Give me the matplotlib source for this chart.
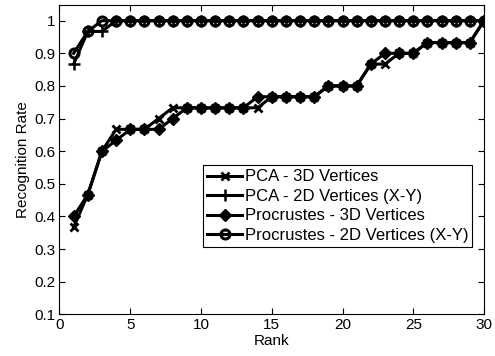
import matplotlib
matplotlib.use('Agg')
import matplotlib.pyplot as plt

plt.rcParams['font.family'] = ['Liberation Sans', 'DejaVu Sans']

rank = list(range(1, 31))
pca_3d = [0.367, 0.467, 0.600, 0.667, 0.667, 0.667, 0.700, 0.733, 0.733, 0.733,
          0.733, 0.733, 0.733, 0.733, 0.767, 0.767, 0.767, 0.767, 0.800, 0.800,
          0.800, 0.867, 0.867, 0.900, 0.900, 0.933, 0.933, 0.933, 0.933, 1.000]
pca_2d = [0.867, 0.967, 0.967] + [1.0] * 27
proc_3d = [0.400, 0.467, 0.600, 0.633, 0.667, 0.667, 0.667, 0.700, 0.733, 0.733,
           0.733, 0.733, 0.733, 0.767, 0.767, 0.767, 0.767, 0.767, 0.800, 0.800,
           0.800, 0.867, 0.900, 0.900, 0.900, 0.933, 0.933, 0.933, 0.933, 1.000]
proc_2d = [0.900, 0.967] + [1.0] * 28

labels = ['PCA - 3D Vertices', 'PCA - 2D Vertices (X-Y)',
          'Procrustes - 3D Vertices', 'Procrustes - 2D Vertices (X-Y)']

fig = plt.figure(figsize=(4.95, 3.56), dpi=100)
ax = fig.add_axes([0.1202, 0.1171, 0.8576, 0.8688])

lw = 2.2
ax.plot(rank, pca_3d, color='k', lw=lw, marker='x', ms=5.5, mew=2, label=labels[0])
ax.plot(rank, pca_2d, color='k', lw=lw, marker='+', ms=8, mew=1.8, label=labels[1])
ax.plot(rank, proc_3d, color='k', lw=lw, marker='D', ms=6.5, mfc='k', label=labels[2])
ax.plot(rank, proc_2d, color='k', lw=lw, marker='o', ms=6.5, mfc='none', mew=2.2, label=labels[3])

ax.set_xlim(0, 30)
ax.set_ylim(0.1, 1.048)
ax.set_xticks(range(0, 31, 5))
ax.set_yticks([0.1, 0.2, 0.3, 0.4, 0.5, 0.6, 0.7, 0.8, 0.9, 1.0])
ax.set_yticklabels(['0.1', '0.2', '0.3', '0.4', '0.5', '0.6', '0.7', '0.8', '0.9', '1'])
ax.tick_params(direction='in', top=True, right=True, labelsize=11, length=4,
               width=0.8, pad=3)
for s in ax.spines.values():
    s.set_linewidth(0.8)

ax.set_xlabel('Rank', fontsize=11, labelpad=1)
ax.set_ylabel('Recognition Rate', fontsize=11, labelpad=3)

leg = ax.legend(loc='lower left', bbox_to_anchor=(0.338, 0.2176), fontsize=12,
                fancybox=False, edgecolor='k', framealpha=1, handlelength=2.1,
                handletextpad=0.15, borderpad=0.25, labelspacing=0.27,
                borderaxespad=0)
leg.get_frame().set_linewidth(0.8)

fig.savefig('out.png', dpi=100)
